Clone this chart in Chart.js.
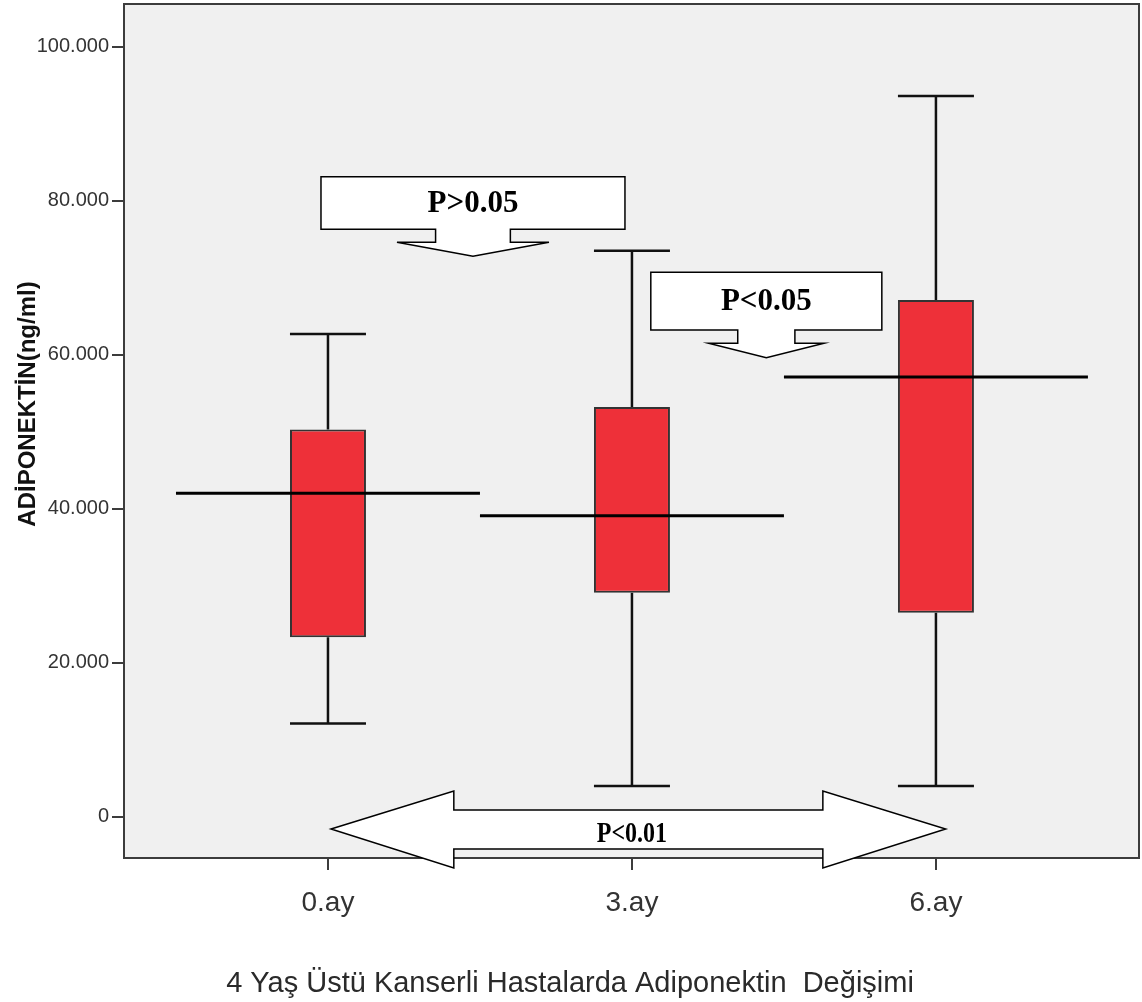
<!DOCTYPE html>
<html>
<head>
<meta charset="utf-8">
<script src="https://cdn.jsdelivr.net/npm/chart.js@4.4.1/dist/chart.umd.min.js"></script>
<style>
  html, body { margin: 0; padding: 0; background: #ffffff; }
</style>
</head>
<body>
<canvas id="chart" width="1142" height="1002"></canvas>
<script>
// values (ng/ml)
const groups = ['0.ay', '3.ay', '6.ay'];
const whiskerLow = [12100, 4000, 4000];
const q1 = [23300, 29100, 26500];
const median = [42000, 39100, 57100];
const q3 = [50300, 53200, 67100];
const whiskerHigh = [62700, 73500, 93600];
const yTicks = [0, 20000, 40000, 60000, 80000, 100000];
const pLabels = ['P>0.05', 'P<0.05', 'P<0.01'];

const yTitle = 'ADİPONEKTİN(ng/ml)';
const xTitle = '4 Yaş Üstü Kanserli Hastalarda Adiponektin  Değişimi';

// annotation shapes, placed in axis units (x = group index, y = ng/ml)
const callouts = [
  { text: pLabels[0], x: 0.477, halfBox: 0.5, halfStem: 0.123, halfHead: 0.25,
    top: 83100, bottom: 76300, stemEnd: 74600, tip: 72800, textY: 79600 },
  { text: pLabels[1], x: 1.442, halfBox: 0.38, halfStem: 0.094, halfHead: 0.19,
    top: 70700, bottom: 63200, stemEnd: 61500, tip: 59600, textY: 66800 },
];
const doubleArrow = {
  text: pLabels[2], x: 1.021, half: 1.011, base: 0.607,
  y: -1600, shaftTop: 870, shaftBottom: -4200, headTop: 3340, headBottom: -6660,
  textX: 1.0, textY: -2300,
};

const formatTick = (value) =>
  String(value).replace(/\B(?=(\d{3})+(?!\d))/g, '.');

const boxplotParts = {
  id: 'boxplotParts',
  beforeDraw(chart) {
    const { ctx, chartArea: a } = chart;
    ctx.save();
    ctx.fillStyle = '#f0f0f0';
    ctx.fillRect(a.left, a.top, a.right - a.left, a.bottom - a.top);
    ctx.restore();
  },
  beforeDatasetsDraw(chart) {
    const { ctx, scales: { x, y } } = chart;
    ctx.save();
    ctx.strokeStyle = '#111111';
    ctx.lineWidth = 2.5;
    groups.forEach((_, i) => {
      const cx = x.getPixelForValue(i);
      const capL = x.getPixelForValue(i - 0.125);
      const capR = x.getPixelForValue(i + 0.125);
      const lo = y.getPixelForValue(whiskerLow[i]);
      const hi = y.getPixelForValue(whiskerHigh[i]);
      ctx.beginPath();
      ctx.moveTo(cx, lo);
      ctx.lineTo(cx, y.getPixelForValue(q1[i]));
      ctx.moveTo(cx, y.getPixelForValue(q3[i]));
      ctx.lineTo(cx, hi);
      ctx.moveTo(capL, lo);
      ctx.lineTo(capR, lo);
      ctx.moveTo(capL, hi);
      ctx.lineTo(capR, hi);
      ctx.stroke();
    });
    ctx.restore();
  },
  afterDatasetsDraw(chart) {
    const { ctx, chartArea: a, scales: { x, y } } = chart;
    ctx.save();
    ctx.strokeStyle = '#000000';
    ctx.lineWidth = 3;
    groups.forEach((_, i) => {
      const py = y.getPixelForValue(median[i]);
      ctx.beginPath();
      ctx.moveTo(x.getPixelForValue(i - 0.5), py);
      ctx.lineTo(x.getPixelForValue(i + 0.5), py);
      ctx.stroke();
    });
    ctx.strokeStyle = '#3c3c3c';
    ctx.lineWidth = 2;
    ctx.strokeRect(a.left, a.top, a.right - a.left, a.bottom - a.top);
    ctx.restore();
  },
  afterDraw(chart) {
    const { ctx, scales: { x, y } } = chart;
    const px = (v) => x.getPixelForValue(v);
    const py = (v) => y.getPixelForValue(v);
    ctx.save();
    ctx.fillStyle = '#ffffff';
    ctx.strokeStyle = '#000000';
    ctx.lineWidth = 1.5;
    ctx.lineJoin = 'miter';

    callouts.forEach((c) => {
      ctx.beginPath();
      ctx.moveTo(px(c.x - c.halfBox), py(c.top));
      ctx.lineTo(px(c.x + c.halfBox), py(c.top));
      ctx.lineTo(px(c.x + c.halfBox), py(c.bottom));
      ctx.lineTo(px(c.x + c.halfStem), py(c.bottom));
      ctx.lineTo(px(c.x + c.halfStem), py(c.stemEnd));
      ctx.lineTo(px(c.x + c.halfHead), py(c.stemEnd));
      ctx.lineTo(px(c.x), py(c.tip));
      ctx.lineTo(px(c.x - c.halfHead), py(c.stemEnd));
      ctx.lineTo(px(c.x - c.halfStem), py(c.stemEnd));
      ctx.lineTo(px(c.x - c.halfStem), py(c.bottom));
      ctx.lineTo(px(c.x - c.halfBox), py(c.bottom));
      ctx.closePath();
      ctx.fill();
      ctx.stroke();
    });

    const d = doubleArrow;
    ctx.beginPath();
    ctx.moveTo(px(d.x - d.half), py(d.y));
    ctx.lineTo(px(d.x - d.base), py(d.headTop));
    ctx.lineTo(px(d.x - d.base), py(d.shaftTop));
    ctx.lineTo(px(d.x + d.base), py(d.shaftTop));
    ctx.lineTo(px(d.x + d.base), py(d.headTop));
    ctx.lineTo(px(d.x + d.half), py(d.y));
    ctx.lineTo(px(d.x + d.base), py(d.headBottom));
    ctx.lineTo(px(d.x + d.base), py(d.shaftBottom));
    ctx.lineTo(px(d.x - d.base), py(d.shaftBottom));
    ctx.lineTo(px(d.x - d.base), py(d.headBottom));
    ctx.closePath();
    ctx.fill();
    ctx.stroke();

    ctx.fillStyle = '#000000';
    ctx.textAlign = 'center';
    ctx.textBaseline = 'middle';
    ctx.font = 'bold 31px "Liberation Serif", "Times New Roman", serif';
    callouts.forEach((c) => {
      ctx.fillText(c.text, px(c.x), py(c.textY));
    });
    ctx.save();
    ctx.translate(px(d.textX), py(d.textY));
    ctx.scale(0.8, 1);
    ctx.font = 'bold 30px "Liberation Serif", "Times New Roman", serif';
    ctx.fillText(d.text, 0, 0);
    ctx.restore();

    // axis titles
    ctx.fillStyle = '#111111';
    ctx.save();
    ctx.translate(28, 404);
    ctx.rotate(-Math.PI / 2);
    ctx.font = 'bold 24px "Liberation Sans", Arial, sans-serif';
    ctx.fillText(yTitle, 0, 0);
    ctx.restore();

    ctx.fillStyle = '#2a2a2a';
    ctx.font = '29px "Liberation Sans", Arial, sans-serif';
    ctx.fillText(xTitle, 570, 984);
    ctx.restore();
  },
};

new Chart(document.getElementById('chart').getContext('2d'), {
  type: 'bar',
  data: {
    datasets: [
      {
        data: groups.map((_, i) => ({ x: i, y: [q1[i], q3[i]] })),
        backgroundColor: '#ee3039',
        borderColor: '#333333',
        borderWidth: 2,
        borderSkipped: false,
        categoryPercentage: 1,
        barPercentage: 0.25,
      },
    ],
  },
  options: {
    responsive: false,
    animation: false,
    layout: { padding: { top: 4, right: 3, left: 0, bottom: 0 } },
    plugins: {
      legend: { display: false },
      tooltip: { enabled: false },
    },
    scales: {
      x: {
        type: 'linear',
        offset: false,
        min: -0.671,
        max: 2.668,
        afterBuildTicks: (scale) => {
          scale.ticks = groups.map((_, i) => ({ value: i }));
        },
        afterFit: (scale) => {
          scale.height = 144;
          scale.paddingLeft = 0;
          scale.paddingRight = 0;
        },
        border: { display: false },
        grid: {
          offset: false,
          drawOnChartArea: false,
          drawTicks: true,
          tickLength: 12,
          color: '#3c3c3c',
          lineWidth: 2,
        },
        ticks: {
          color: '#333333',
          padding: 16,
          font: { family: '"Liberation Sans", Arial, sans-serif', size: 28 },
          callback: (value) => groups[value],
        },
      },
      y: {
        min: -5364,
        max: 105545,
        afterBuildTicks: (scale) => {
          scale.ticks = yTicks.map((value) => ({ value }));
        },
        afterFit: (scale) => {
          scale.width = 124;
          scale.paddingTop = 0;
          scale.paddingBottom = 0;
        },
        border: { display: false },
        grid: {
          drawOnChartArea: false,
          drawTicks: true,
          tickLength: 12,
          color: '#3c3c3c',
          lineWidth: 2,
        },
        ticks: {
          color: '#333333',
          padding: 3,
          font: { family: '"Liberation Sans", Arial, sans-serif', size: 20 },
          callback: (value) => formatTick(value),
        },
      },
    },
  },
  plugins: [boxplotParts],
});
</script>
</body>
</html>
